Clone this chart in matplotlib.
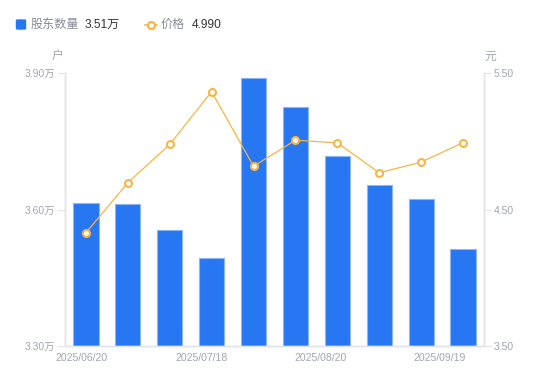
import numpy as np
import matplotlib.pyplot as plt
from matplotlib.lines import Line2D
from matplotlib.patches import FancyBboxPatch

plt.rcParams['font.family'] = ['Liberation Sans', 'Noto Sans CJK SC', 'DejaVu Sans']

# dados
datas = ["2025/06/20", "2025/07/18", "2025/08/20", "2025/09/19"]
acionistas = [3.614, 3.612, 3.555, 3.493, 3.889, 3.825, 3.717, 3.654, 3.623, 3.513]  # 万户
preco = [4.330, 4.696, 4.977, 5.363, 4.817, 5.008, 4.988, 4.769, 4.847, 4.990]  # 元

azul = '#2777F2'
laranja = '#F7B545'
cinza = '#A2A5B2'
linha_eixo = '#E3E4E8'

W, H = 550, 381
fig = plt.figure(figsize=(W / 100, H / 100), dpi=100)
ax = fig.add_axes([65 / W, (H - 346) / H, (484 - 65) / W, (346 - 73) / H])
ax2 = ax.twinx()

x = np.arange(len(acionistas))
ax.bar(x, acionistas, width=0.6, color=azul, edgecolor='#8DB6F7', linewidth=0.8, zorder=2)
ax.set_xlim(-0.5, len(acionistas) - 0.5)
ax.set_ylim(3.30, 3.90)
ax.set_yticks([3.30, 3.60, 3.90])
ax.set_yticklabels([f"{v:.2f}万" for v in [3.30, 3.60, 3.90]])

ax2.plot(x, preco, color=laranja, lw=0.9, marker='o', ms=5, mfc='white',
         mec=laranja, mew=1.5, zorder=3)
ax2.set_ylim(3.5, 5.5)
ax2.set_yticks([3.5, 4.5, 5.5])
ax2.set_yticklabels([f"{v:.2f}" for v in [3.5, 4.5, 5.5]])

# rotulos do eixo x
ax.set_xticks([-0.1, 2.75, 5.6, 8.45])
ax.set_xticklabels(datas)
ax.tick_params(axis='x', length=0, pad=5, labelsize=7.5, labelcolor=cinza)
ax.tick_params(axis='y', length=5, width=0.8, color=linha_eixo, pad=2,
               labelsize=7.5, labelcolor=cinza)
ax2.tick_params(axis='y', length=5, width=0.8, color=linha_eixo, pad=2,
                labelsize=7.5, labelcolor=cinza)

for a in (ax, ax2):
    a.spines['top'].set_visible(False)
    for s in ('left', 'right', 'bottom'):
        a.spines[s].set_color(linha_eixo)
        a.spines[s].set_linewidth(1)
ax.set_zorder(ax2.get_zorder() - 1)
ax2.patch.set_visible(False)

# unidades
fig.text(58 / W, 1 - 57 / H, "户", fontsize=8.5, color=cinza, ha='center', va='center')
fig.text(490 / W, 1 - 57 / H, "元", fontsize=8.5, color=cinza, ha='center', va='center')

# legenda feita a mao
yl = 1 - 24.5 / H
fig.patches.append(FancyBboxPatch((16.5 / W, 1 - 29 / H), 9 / W, 9 / H,
                                  boxstyle='round,pad=0,rounding_size=0.002',
                                  transform=fig.transFigure, color=azul))
fig.text(31 / W, yl, "股东数量", fontsize=8.7, color='#8A8D99', va='center')
fig.text(85 / W, yl, "3.51万", fontsize=8.6, color='#333333', va='center')
fig.lines.append(Line2D([145 / W, 157 / W], [yl, yl], transform=fig.transFigure,
                        color=laranja, lw=1.2))
fig.lines.append(Line2D([151 / W], [yl], transform=fig.transFigure, marker='o', ms=5,
                        mfc='white', mec=laranja, mew=1.6))
fig.text(161 / W, yl, "价格", fontsize=8.7, color='#8A8D99', va='center')
fig.text(192 / W, yl, "4.990", fontsize=8.6, color='#333333', va='center')

fig.savefig("out.png", dpi=100)
